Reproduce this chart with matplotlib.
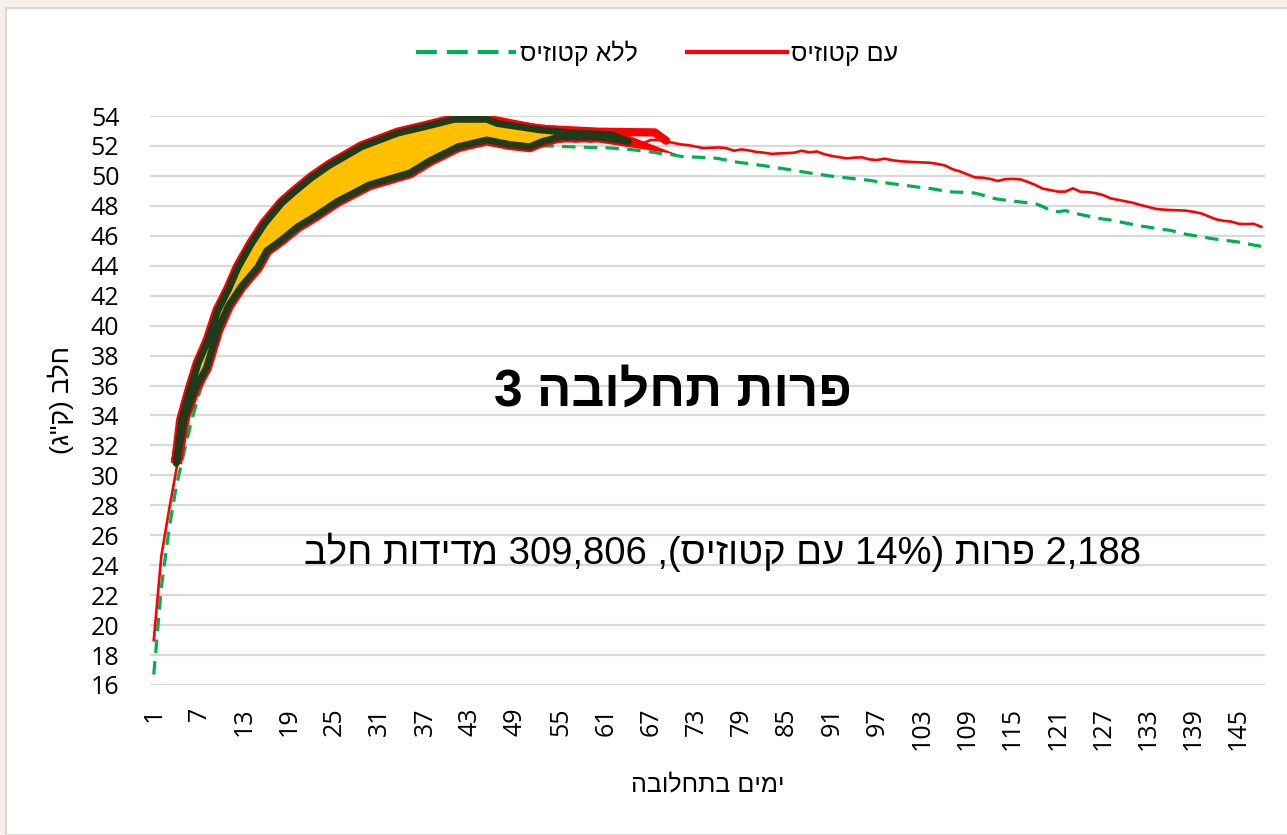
import re
import numpy as np
import matplotlib
matplotlib.use("Agg")
import matplotlib.pyplot as plt
from matplotlib.patches import Rectangle


# matplotlib has no bidi support: reverse each Hebrew word,
# the strings below are written in visual word order
def heb(s):
    return re.sub(r'[\u05d0-\u05ea]+(?:"[\u05d0-\u05ea]+)*', lambda m: m.group(0)[::-1], s)


# milk yield per day in lactation, cows with ketosis
with_ketosis = [
    19.0, 24.6, 27.6, 30.4, 33.2, 35.0, 36.3, 37.3, 38.6, 40.0,
    41.1, 42.0, 42.7, 43.3, 44.0, 44.6, 45.1, 45.5, 45.9, 46.3,
    46.7, 47.0, 47.4, 47.8, 48.1, 48.4, 48.6, 48.9, 49.1, 49.3,
    49.5, 49.7, 49.8, 49.9, 50.1, 50.4, 50.7, 51.0, 51.3, 51.6,
    51.8, 52.0, 52.2, 52.3, 52.3, 52.2, 52.1, 52.1, 52.0, 51.9,
    52.0, 52.1, 52.2, 52.3, 52.3, 52.4, 52.3, 52.4, 52.3, 52.4,
    52.3, 52.2, 52.3, 52.2, 52.2, 52.2, 52.4, 52.4, 52.3, 52.2,
    52.1, 52.05, 51.95, 51.85, 51.88, 51.9, 51.85, 51.68, 51.77, 51.7,
    51.6, 51.55, 51.47, 51.5, 51.52, 51.55, 51.68, 51.57, 51.63, 51.45,
    51.33, 51.25, 51.17, 51.22, 51.24, 51.1, 51.06, 51.15, 51.05, 50.98,
    50.95, 50.92, 50.9, 50.88, 50.8, 50.7, 50.45, 50.3, 50.1, 49.9,
    49.88, 49.8, 49.66, 49.78, 49.8, 49.77, 49.6, 49.4, 49.15, 49.05,
    48.95, 48.95, 49.17, 48.94, 48.92, 48.85, 48.72, 48.5, 48.4, 48.3,
    48.2, 48.05, 47.93, 47.8, 47.75, 47.72, 47.7, 47.68, 47.6, 47.5,
    47.3, 47.1, 47.0, 46.95, 46.8, 46.78, 46.8, 46.6,
]

# cows without ketosis
without_ketosis = [
    16.7, 22.5, 26.3, 29.3, 31.5, 33.6, 35.4, 37.0, 38.5, 39.9,
    41.1, 42.2, 43.2, 44.1, 44.9, 45.6, 46.3, 46.9, 47.5, 48.0,
    48.5, 48.9, 49.3, 49.7, 50.0, 50.3, 50.6, 50.9, 51.1, 51.3,
    51.5, 51.7, 51.8, 51.9, 52.0, 52.1, 52.2, 52.25, 52.3, 52.3,
    52.3, 52.3, 52.3, 52.3, 52.25, 52.2, 52.2, 52.15, 52.1, 52.1,
    52.05, 52.0, 52.0, 52.0, 51.98, 51.95, 51.93, 51.92, 51.9, 51.9,
    51.88, 51.85, 51.8, 51.77, 51.72, 51.65, 51.6, 51.52, 51.47, 51.4,
    51.3, 51.27, 51.25, 51.23, 51.22, 51.15, 51.05, 50.95, 50.88, 50.82,
    50.75, 50.68, 50.6, 50.52, 50.45, 50.36, 50.28, 50.2, 50.13, 50.05,
    49.98, 49.93, 49.87, 49.81, 49.76, 49.7, 49.62, 49.55, 49.48, 49.41,
    49.35, 49.28, 49.22, 49.16, 49.08, 48.98, 48.93, 48.91, 48.9, 48.85,
    48.72, 48.55, 48.45, 48.38, 48.32, 48.26, 48.2, 48.15, 47.95, 47.7,
    47.6, 47.68, 47.55, 47.42, 47.32, 47.2, 47.12, 47.05, 46.95, 46.85,
    46.75, 46.65, 46.58, 46.5, 46.42, 46.36, 46.22, 46.1, 46.02, 45.94,
    45.85, 45.77, 45.7, 45.65, 45.58, 45.48, 45.38, 45.3,
]

days = np.arange(1, len(with_ketosis) + 1)
xticks = list(range(1, 148, 6))
yticks = list(range(16, 55, 2))

# hand drawn highlight over the early lactation part
shape_upper_day = [4.0, 4.7, 5.8, 6.9, 8.2, 9.5, 10.9, 12.2, 14.0, 15.7, 18.0, 19.7,
                   22.0, 24.3, 28.6, 33.4, 37.1, 40.9, 45.2, 46.6, 52.3, 57.0, 61.7, 64.0]
shape_upper_val = [30.8, 33.7, 35.7, 37.5, 39.0, 41.0, 42.4, 43.9, 45.5, 46.8, 48.2, 48.95,
                   49.9, 50.7, 51.95, 52.86, 53.3, 53.78, 53.78, 53.5, 53.07, 52.85, 52.75, 52.3]
shape_lower_day = [4.0, 5.1, 6.4, 8.0, 9.5, 10.9, 12.6, 14.8, 16.0, 17.9, 20.1, 22.4,
                   25.4, 29.6, 35.0, 37.6, 41.4, 45.2, 48.2, 50.9, 52.6, 54.9, 60.0, 64.0]
shape_lower_val = [30.8, 33.9, 35.7, 37.2, 39.7, 41.3, 42.6, 43.9, 45.0, 45.7, 46.6, 47.3,
                   48.3, 49.4, 50.2, 51.0, 51.95, 52.4, 52.1, 51.95, 52.3, 52.6, 52.6, 52.3]
red_mark_day = [46.0, 52.0, 60.0, 67.5, 69.0]
red_mark_val = [53.75, 53.15, 52.95, 52.9, 52.35]

heb_font = ['Liberation Sans', 'DejaVu Sans']
tick_font = ['Open Sans', 'DejaVu Sans']

fig = plt.figure(figsize=(12.87, 8.35), dpi=100)
fig.patch.set_facecolor('#f8efea')
fig.patches.append(Rectangle((6 / 1287, 0), 1.0, 1 - 8 / 835, transform=fig.transFigure,
                             facecolor='white', edgecolor='#d9d9d9', linewidth=1.5, zorder=-10))

ax = fig.add_axes([150 / 1287, 1 - 685 / 835, 1115 / 1287, 569 / 835])
ax.set_facecolor('none')

ax.plot(days, without_ketosis, color='#00b050', linewidth=2.3, dashes=(4.2, 2.6), zorder=2)
ax.plot(days, with_ketosis, color='#ff0000', linewidth=1.9, zorder=3)

# highlight polygon
poly_x = shape_upper_day + shape_lower_day[::-1]
poly_y = shape_upper_val + shape_lower_val[::-1]
ax.plot(red_mark_day, red_mark_val, color='#ff0000', linewidth=6, solid_capstyle='round', zorder=4)
ax.fill(poly_x, poly_y, facecolor='#ffc000', edgecolor='#ff0000', linewidth=8, zorder=4)
ax.fill(poly_x, poly_y, facecolor='#ffc000', edgecolor='#1f3b1c', linewidth=5,
        joinstyle='round', zorder=5)

ax.set_xlim(0.5, len(days) + 0.5)
ax.set_ylim(16, 54)
ax.set_xticks(xticks)
ax.set_xticklabels([str(t) for t in xticks], rotation=90, family=tick_font, fontsize=18)
ax.set_yticks(yticks)
ax.set_yticklabels([str(t) for t in yticks], family=tick_font, fontsize=18)
ax.tick_params(axis='both', length=0)
ax.tick_params(axis='y', pad=22)
ax.tick_params(axis='x', pad=16)
ax.grid(axis='y', color='#d9d9d9', linewidth=1.6)
ax.set_axisbelow(True)
for s in ax.spines.values():
    s.set_visible(False)

ax.set_xlabel(heb('בתחלובה ימים'), family=heb_font, fontsize=18, labelpad=16)
ax.set_ylabel(heb('(ק"ג) חלב'), family=heb_font, fontsize=19, labelpad=12)

fig.text(673 / 1287, 1 - 392 / 835, heb('3 תחלובה פרות'), family=heb_font,
         fontsize=37, fontweight='bold', ha='center', va='center')
fig.text(723 / 1287, 1 - 552 / 835, heb('חלב מדידות 309,806 ,(קטוזיס עם 14%) פרות 2,188'),
         family=heb_font, fontsize=27.5, ha='center', va='center')

h_green, = ax.plot([], [], color='#00b050', linewidth=3, dashes=(5, 2.4))
h_red, = ax.plot([], [], color='#ff0000', linewidth=3)
fig.legend([h_green, h_red], [heb('קטוזיס ללא'), heb('קטוזיס עם')],
           loc='center', bbox_to_anchor=(657 / 1287, 1 - 53 / 835), ncol=2, frameon=False,
           prop={'family': ['Liberation Sans Narrow', 'Liberation Sans'], 'size': 18},
           handlelength=4.0, handletextpad=0.15, columnspacing=2.0)

fig.savefig('out.png', dpi=100, facecolor=fig.get_facecolor())
